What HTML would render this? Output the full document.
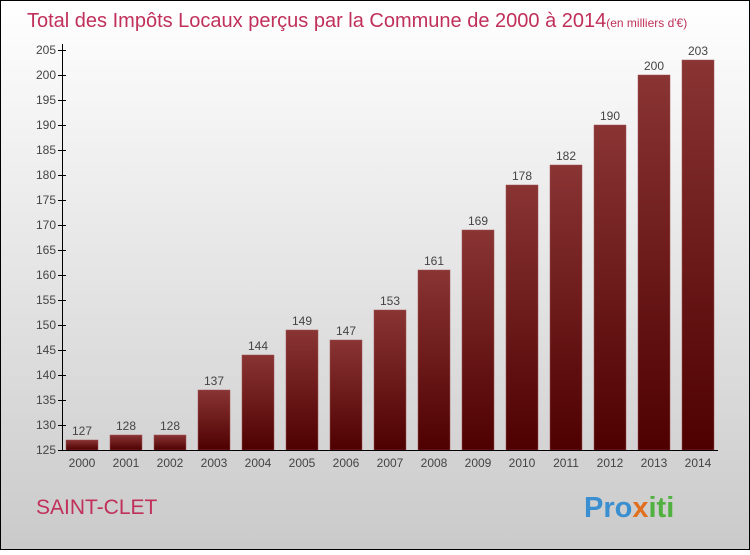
<!DOCTYPE html>
<html><head><meta charset="utf-8"><style>
body{margin:0;width:750px;height:550px;overflow:hidden;font-family:"Liberation Sans",sans-serif}
</style></head><body>
<svg width="750" height="550" xmlns="http://www.w3.org/2000/svg">
<defs>
<linearGradient id="bg" x1="0" y1="0" x2="0" y2="1"><stop offset="0" stop-color="#ffffff"/><stop offset="1" stop-color="#cacaca"/></linearGradient>
<linearGradient id="bar" x1="0" y1="0" x2="0" y2="1"><stop offset="0" stop-color="#8a3434"/><stop offset="1" stop-color="#4e0000"/></linearGradient>
</defs>
<rect x="0.5" y="0.5" width="749" height="549" fill="url(#bg)" stroke="#000"/>
<text x="27" y="27" font-size="20" fill="#c0305a">Total des Impôts Locaux perçus par la Commune de 2000 à 2014<tspan font-size="12">(en milliers d'€)</tspan></text>
<g id="yaxis"></g>
<g id="bars"></g>
<g id="xaxis"></g>
<text x="36" y="514" font-size="21" fill="#c0305a">SAINT-CLET</text>
<g font-size="29" font-weight="bold">
<text x="584" y="517"><tspan fill="#3a8fd0">Pro</tspan><tspan fill="#e07020">x</tspan><tspan fill="#50b040">iti</tspan></text>
</g>
</svg>
<script>
const years=["2000","2001","2002","2003","2004","2005","2006","2007","2008","2009","2010","2011","2012","2013","2014"];
const values=[127,128,128,137,144,149,147,153,161,169,178,182,190,200,203];
const yTicks=[125,130,135,140,145,150,155,160,165,170,175,180,185,190,195,200,205];
const NS="http://www.w3.org/2000/svg";
const y=v=>450-(v-125)*5;
const x=i=>82+i*44;
function mk(t,a,p){const e=document.createElementNS(NS,t);for(const k in a)e.setAttribute(k,a[k]);p.appendChild(e);return e;}
const ya=document.getElementById('yaxis'),ba=document.getElementById('bars'),xa=document.getElementById('xaxis');
mk('line',{x1:62.5,y1:44,x2:62.5,y2:450,stroke:'#000'},ya);
yTicks.forEach(v=>{
 const l=mk('line',{x1:58,y1:y(v)+.5,x2:66,y2:y(v)+.5,stroke:'#000'},ya);
 
 
 const t=mk('text',{x:56,y:y(v)+4,'text-anchor':'end','font-size':12,fill:'#444'},ya);
 t.textContent=v;
 
 
});
values.forEach((v,i)=>{
 const r=mk('rect',{x:x(i)-16,y:y(v),width:32,height:450-y(v),fill:'url(#bar)',stroke:'#a05050','stroke-width':0.5},ba);
 
 
 const t=mk('text',{x:x(i),y:y(v)-5,'text-anchor':'middle','font-size':12,fill:'#444'},ba);
 t.textContent=v;
 
 
 const yl=mk('text',{x:x(i),y:467,'text-anchor':'middle','font-size':12,fill:'#444'},xa);
 yl.textContent=years[i];
 
 
});
mk('line',{x1:62,y1:450.5,x2:718,y2:450.5,stroke:'#000'},xa);
</script>
</body></html>
